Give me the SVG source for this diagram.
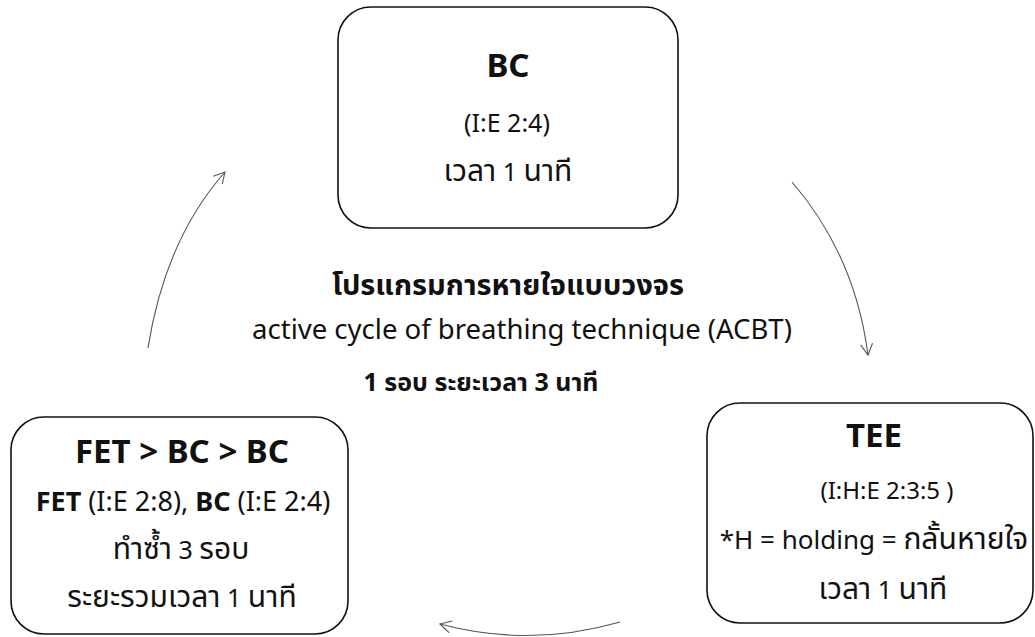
<svg xmlns="http://www.w3.org/2000/svg" width="1035" height="637" viewBox="0 0 1035 637">
<defs>
<style>
.box{fill:#fff;stroke:#111;stroke-width:1.6}
text{font-family:"Noto Sans","Noto Sans Thai","DejaVu Sans",sans-serif;fill:#111;text-anchor:middle}
.t{font-size:33px;font-weight:bold}
.s{font-size:25px}
.th{font-size:30px}
.b{font-weight:bold}
.con{fill:none;stroke:#555;stroke-width:1.1}
</style>
<marker id="ah" markerWidth="14" markerHeight="14" refX="12" refY="7" orient="auto" markerUnits="userSpaceOnUse">
<path d="M1,1 L12,7 L1,13" fill="none" stroke="#555" stroke-width="1.1"/>
</marker>
</defs>
<rect width="1035" height="637" fill="#fff"/>
<g id="connectors">
<path class="con" d="M148,348 Q165,240 225,172" marker-end="url(#ah)"/>
<path class="con" d="M792,182 Q855,255 868,355" marker-end="url(#ah)"/>
<path class="con" d="M620,622 Q530,648 440,624" marker-end="url(#ah)"/>
</g>
<g id="node-bc">
<rect class="box" x="338" y="7" width="340" height="221" rx="33"/>
<text class="t" x="508" y="77">BC</text>
<text class="s" x="507" y="132">(I:E 2:4)</text>
<text class="s" x="508" y="181"><tspan class="th">เวลา</tspan> 1 <tspan class="th">นาที</tspan></text>
</g>
<g id="node-tee">
<rect class="box" x="707" y="403" width="326" height="220" rx="33"/>
<text class="t" x="874" y="447">TEE</text>
<text class="s" x="887" y="499" style="font-size:24px">(I:H:E 2:3:5 )</text>
<text class="s" x="874" y="549" style="font-size:26px">*H = holding = <tspan class="th">กลั้นหายใจ</tspan></text>
<text class="s" x="883" y="599"><tspan class="th">เวลา</tspan> 1 <tspan class="th">นาที</tspan></text>
</g>
<g id="node-fet">
<rect class="box" x="11" y="417" width="337" height="217" rx="33"/>
<text class="t" x="182" y="463">FET &gt; BC &gt; BC</text>
<text class="s" x="183" y="511" style="font-size:27px"><tspan class="b">FET</tspan> (I:E 2:8), <tspan class="b">BC</tspan> (I:E 2:4)</text>
<text class="s" x="181" y="559"><tspan class="th">ทำซ้ำ</tspan> 3 <tspan class="th">รอบ</tspan></text>
<text class="s" x="182" y="607"><tspan class="th">ระยะรวมเวลา</tspan> 1 <tspan class="th">นาที</tspan></text>
</g>
<g id="center-title">
<text class="b" x="508" y="295" style="font-size:29px">โปรแกรมการหายใจแบบวงจร</text>
<text x="522" y="339" style="font-size:27.5px">active cycle of breathing technique (ACBT)</text>
<text class="b" x="481" y="391" style="font-size:25px">1 รอบ ระยะเวลา 3 นาที</text>
</g>
</svg>
